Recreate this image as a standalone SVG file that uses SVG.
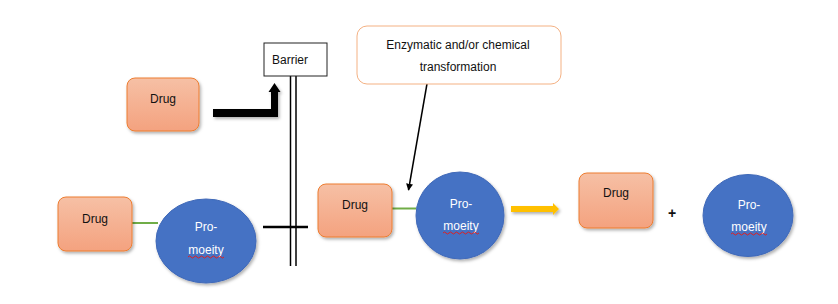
<svg xmlns="http://www.w3.org/2000/svg" width="838" height="304" viewBox="0 0 838 304">
<defs>
<linearGradient id="drugGrad" x1="0" y1="0" x2="0" y2="1">
<stop offset="0" stop-color="#f6c0a5"/>
<stop offset="1" stop-color="#f4a27f"/>
</linearGradient>
<filter id="shadow" x="-20%" y="-20%" width="150%" height="150%">
<feDropShadow dx="1.5" dy="2" stdDeviation="1.5" flood-color="#000" flood-opacity="0.3"/>
</filter>
<marker id="thinHead" viewBox="0 0 10 10" refX="9" refY="5" markerWidth="7" markerHeight="7" orient="auto" markerUnits="userSpaceOnUse">
<path d="M0,0 L10,5 L0,10 Z" fill="#000"/>
</marker>
<style>
.drug{fill:url(#drugGrad);stroke:#ed7d31;stroke-width:1;filter:url(#shadow)}
.pro{fill:#4472c4;stroke:#4169b8;stroke-width:1;filter:url(#shadow)}
.lbl{font-family:"Liberation Sans",Arial,sans-serif;font-size:12px;fill:#111;text-anchor:middle}
.wlbl{font-family:"Liberation Sans",Arial,sans-serif;font-size:12px;fill:#fff;text-anchor:middle}
.squig{fill:none;stroke:#e02020;stroke-width:1}
.green{stroke:#70ad47;stroke-width:2;fill:none}
.blk{stroke:#000;fill:none}
</style>
</defs>
<rect width="838" height="304" fill="#fff"/>

<g id="connectors">
<line class="green" x1="132" y1="223" x2="158" y2="223"/>
<line class="green" x1="392" y1="208.5" x2="416" y2="208.5"/>
<path d="M213,109 L271,109 L271,92 L268.5,92 L274.5,83 L280.5,92 L278,92 L278,117 L213,117 Z" fill="#000" filter="url(#shadow)"/>
<line class="blk" x1="428" y1="78" x2="408.5" y2="190" stroke-width="1.5" marker-end="url(#thinHead)"/>
<path d="M511,206 L553,206 L553,203 L559,209 L553,215 L553,212 L511,212 Z" fill="#ffc000" filter="url(#shadow)"/>
<line class="blk" x1="263" y1="227" x2="308" y2="227" stroke-width="2.5"/>
</g>

<g id="barrier">
<line class="blk" x1="290.5" y1="76" x2="290.5" y2="266" stroke-width="1.5"/>
<line class="blk" x1="296" y1="76" x2="296" y2="266" stroke-width="1.5"/>
<rect x="264" y="43" width="63" height="33" fill="#fff" stroke="#222" stroke-width="1"/>
<text x="272" y="64" style="font-family:'Liberation Sans',Arial,sans-serif;font-size:12px;fill:#111">Barrier</text>
</g>

<g id="drug-top">
<rect class="drug" x="127" y="78" width="72" height="53" rx="8"/>
<text class="lbl" x="163" y="103">Drug</text>
</g>

<g id="drug-left">
<rect class="drug" x="58" y="197" width="74" height="54" rx="8"/>
<text class="lbl" x="95" y="223">Drug</text>
</g>

<g id="promoiety-left">
<ellipse class="pro" cx="206" cy="241" rx="50" ry="42"/>
<text class="wlbl" x="206" y="231">Pro-</text>
<text class="wlbl" x="206" y="254">moeity</text>
<path class="squig" d="M188,257 q1.5,-2 3,0 t3,0 t3,0 t3,0 t3,0 t3,0 t3,0 t3,0 t3,0 t3,0 t3,0 t3,0"/>
</g>

<g id="drug-mid">
<rect class="drug" x="318" y="184" width="74" height="53" rx="8"/>
<text class="lbl" x="355" y="209">Drug</text>
</g>

<g id="promoiety-mid">
<ellipse class="pro" cx="460" cy="215.5" rx="44" ry="43.5"/>
<text class="wlbl" x="461" y="208">Pro-</text>
<text class="wlbl" x="461" y="230">moeity</text>
<path class="squig" d="M443,233 q1.5,-2 3,0 t3,0 t3,0 t3,0 t3,0 t3,0 t3,0 t3,0 t3,0 t3,0 t3,0 t3,0"/>
</g>

<g id="callout">
<rect x="357" y="26" width="204" height="58" rx="10" fill="#fff" stroke="#f4b183" stroke-width="1"/>
<text class="lbl" x="458" y="49">Enzymatic and/or chemical</text>
<text class="lbl" x="458" y="71">transformation</text>
</g>

<g id="drug-right">
<rect class="drug" x="579" y="173" width="74" height="55" rx="8"/>
<text class="lbl" x="616" y="197">Drug</text>
</g>

<g id="plus">
<text x="672" y="218" style="font-family:'Liberation Sans',Arial,sans-serif;font-size:14px;font-weight:bold;fill:#111;text-anchor:middle">+</text>
</g>

<g id="promoiety-right">
<ellipse class="pro" cx="748" cy="215.5" rx="45" ry="41"/>
<text class="wlbl" x="749" y="209">Pro-</text>
<text class="wlbl" x="749" y="231">moeity</text>
<path class="squig" d="M731,234 q1.5,-2 3,0 t3,0 t3,0 t3,0 t3,0 t3,0 t3,0 t3,0 t3,0 t3,0 t3,0 t3,0"/>
</g>
</svg>
